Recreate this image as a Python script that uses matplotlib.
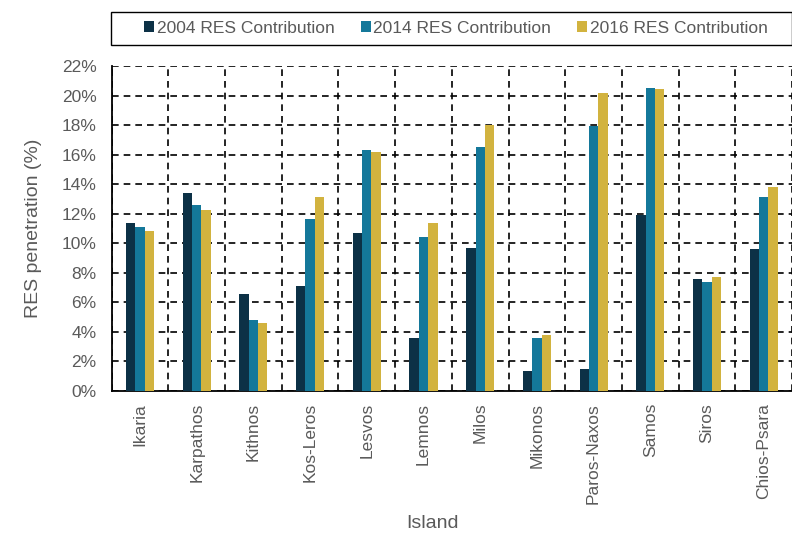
import matplotlib
matplotlib.use("Agg")
import matplotlib.pyplot as plt
from matplotlib.patches import Rectangle
import numpy as np

islands = ["Ikaria", "Karpathos", "Kithnos", "Kos-Leros", "Lesvos", "Lemnos",
           "Milos", "Mikonos", "Paros-Naxos", "Samos", "Siros", "Chios-Psara"]
res_2004 = [11.4, 13.4, 6.6, 7.1, 10.7, 3.6, 9.7, 1.35, 1.5, 11.9, 7.55, 9.6]
res_2014 = [11.1, 12.6, 4.8, 11.65, 16.3, 10.4, 16.5, 3.6, 17.95, 20.5, 7.4, 13.15]
res_2016 = [10.85, 12.25, 4.6, 13.1, 16.15, 11.4, 18.0, 3.8, 20.15, 20.45, 7.7, 13.8]
series_labels = ["2004 RES Contribution", "2014 RES Contribution", "2016 RES Contribution"]
colors = ["#0c3146", "#14789a", "#d2b33f"]
yticks = np.arange(0, 23, 2)

plt.rcParams['font.family'] = ['Liberation Sans', 'DejaVu Sans']
text_color = "#5a5a5a"

W, H = 792, 533
fig = plt.figure(figsize=(W / 100, H / 100), dpi=100)
ax = fig.add_axes([111.7 / W, 1 - 391 / H, (W - 111.7) / W, 325 / H])

x = np.arange(len(islands))
w = 0.165
for i, (vals, lab, c) in enumerate(zip([res_2004, res_2014, res_2016], series_labels, colors)):
    ax.bar(x + (i - 1) * w, vals, width=w, color=c, label=lab, zorder=3)

ax.set_xlim(-0.5, len(islands) - 0.5)
ax.set_ylim(0, 22)
ax.set_yticks(yticks)
ax.set_yticklabels([f"{v}%" for v in yticks], color=text_color, fontsize=12.5)
ax.set_xticks(x)
ax.set_xticklabels(islands, rotation=90, color=text_color, fontsize=12.5)
ax.set_xticks(np.arange(-0.5, len(islands), 1), minor=True)
ax.tick_params(axis='both', which='both', length=0)
ax.tick_params(axis='y', pad=11)
ax.tick_params(axis='x', pad=8.5)
ax.grid(axis='y', which='major', color='black', linestyle=(0, (4, 3)), linewidth=1.2, zorder=1)
ax.grid(axis='x', which='minor', color='black', linestyle=(0, (4, 3)), linewidth=1.2, zorder=1)
ax.grid(axis='x', which='major', visible=False)
for s in ['top', 'right']:
    ax.spines[s].set_visible(False)
for s in ['left', 'bottom']:
    ax.spines[s].set_color('black')
    ax.spines[s].set_linewidth(1.3)

ax.set_ylabel("RES penetration (%)", color=text_color, fontsize=14)
ax.yaxis.set_label_coords((34 - 111.7) / (W - 111.7), 0.5)
ax.yaxis.label.set_va('center')
ax.set_xlabel("Island", color=text_color, fontsize=14)
ax.xaxis.set_label_coords((433 - 111.7) / (W - 111.7), -(523 - 391) / 325)
ax.xaxis.label.set_va('center')

# legend box
fig.patches.append(Rectangle((111 / W, 1 - 45 / H), (W - 111.5) / W, 33 / H,
                             transform=fig.transFigure, fill=False,
                             edgecolor='black', linewidth=1.0))
handles, labels = ax.get_legend_handles_labels()
leg = fig.legend(handles, labels, loc='center', ncol=3,
                 bbox_to_anchor=(456 / W, 1 - 28.5 / H),
                 frameon=False, fontsize=12.5,
                 handlelength=0.58, handleheight=0.58, handletextpad=0.15,
                 columnspacing=1.5, borderaxespad=0, borderpad=0)
for t in leg.get_texts():
    t.set_color(text_color)

fig.savefig("out.png", dpi=100)
